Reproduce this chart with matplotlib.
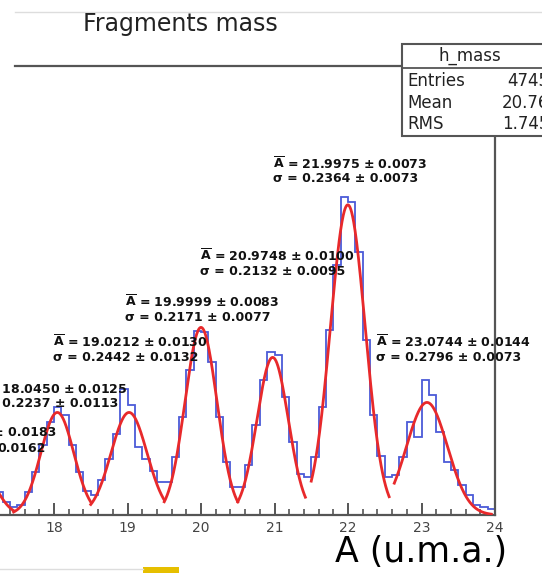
import numpy as np
import matplotlib
matplotlib.use("Agg")
import matplotlib.pyplot as plt
from matplotlib.patches import Rectangle
from matplotlib.lines import Line2D

W, H = 542, 573

# histogram h_mass, 0.1 wide bins starting at 17.2
bin_lo = 17.2
bin_width = 0.1
counts = [18, 10, 6, 8, 18, 34, 56, 74, 86, 80,
          56, 34, 19, 16, 28, 45, 65, 101, 88, 54,
          45, 35, 26, 26, 46, 78, 116, 147, 146, 122,
          78, 42, 22, 22, 40, 72, 108, 130, 128, 94,
          58, 33, 30, 46, 86, 148, 200, 254, 250, 210,
          140, 80, 47, 30, 32, 46, 74, 62, 108, 96,
          66, 42, 36, 24, 16, 8, 6, 5]

# gaussian fits, one per peak
fit_mean = [17.03, 18.0450, 19.0212, 19.9999, 20.9748, 21.9975, 23.0744]
fit_sigma = [0.20, 0.2237, 0.2442, 0.2171, 0.2132, 0.2364, 0.2796]
fit_amp = [32, 82, 82, 150, 126, 248, 90]
fit_lo = [16.6, 17.45, 18.5, 19.5, 20.5, 21.5, 22.63]
fit_hi = [17.45, 18.5, 19.5, 20.5, 21.42, 22.56, 23.95]

# fit result labels (left x, y of first line, in data units)
lab_mean = ["18.0450 ± 0.0125", "19.0212 ± 0.0130", "19.9999 ± 0.0083",
            "20.9748 ± 0.0100", "21.9975 ± 0.0073", "23.0744 ± 0.0144"]
lab_sigma = ["0.2237 ± 0.0113", "0.2442 ± 0.0132", "0.2171 ± 0.0077",
             "0.2132 ± 0.0095", "0.2364 ± 0.0073", "0.2796 ± 0.0073"]
lab_x = [16.90, 17.99, 18.97, 19.99, 20.98, 22.38]
lab_y = [101, 138, 170, 207, 281, 138]

stat_names = ["Entries", "Mean", "RMS"]
stat_vals = ["4745", "20.76", "1.745"]

fig = plt.figure(figsize=(W / 100, H / 100), dpi=100)

def fx(x):
    return x / W

def fy(y):
    return 1 - y / H

ax = fig.add_axes([0, fy(515), fx(495), (515 - 66) / H])
ax.set_xlim(17.2653, 24.0)
ax.set_ylim(0, 359)

edges = bin_lo + bin_width * np.arange(len(counts) + 1)
ax.stairs(counts, edges, color="#4b5bd8", lw=1.3, zorder=2)

for m, s, a, lo, hi in zip(fit_mean, fit_sigma, fit_amp, fit_lo, fit_hi):
    xs = np.linspace(lo, hi, 300)
    ax.plot(xs, a * np.exp(-(xs - m) ** 2 / (2 * s ** 2)), color="#e8292b", lw=2.0, zorder=3)

for t, sg, x, y in zip(lab_mean, lab_sigma, lab_x, lab_y):
    ax.text(x, y, r"$\overline{\mathbf{A}}$ = " + t, fontsize=9, fontweight="bold",
            va="center", ha="left", color="#111111", zorder=4)
    ax.text(x, y - 12, "σ = " + sg, fontsize=9, fontweight="bold",
            va="center", ha="left", color="#111111", zorder=4)

# first peak label is cut by the left border, only its end is visible
fig.text(fx(-7), fy(433), "± 0.0183", fontsize=9, fontweight="bold", va="center", color="#111111")
fig.text(fx(-3), fy(448), "0.0162", fontsize=9, fontweight="bold", va="center", color="#111111")

ax.spines["left"].set_visible(False)
ax.spines["top"].set_visible(False)
for sp in ["bottom", "right"]:
    ax.spines[sp].set_color("#555555")
    ax.spines[sp].set_linewidth(1.6)

ax.set_xticks(np.arange(18, 25, 1))
ax.set_xticks(np.arange(17.4, 24.01, 0.2), minor=True)
ax.set_yticks([])
ax.tick_params(axis="x", which="major", direction="in", length=9, width=1.4,
               color="#555555", labelsize=10, labelcolor="#444444", pad=4)
ax.tick_params(axis="x", which="minor", direction="in", length=4.5, width=1.2, color="#555555")
ax.patch.set_alpha(0)

# frame top line
fig.add_artist(Line2D([fx(15), fx(495)], [fy(66), fy(66)], color="#555555", lw=1.6))
# faint screenshot border at the very top
fig.add_artist(Line2D([fx(15), 1], [fy(12), fy(12)], color="#dddddd", lw=1.0))

fig.text(fx(83), fy(31), "Fragments mass", fontsize=17, va="baseline", ha="left", color="#222222")

# stats box
fig.add_artist(Rectangle((fx(402), fy(136)), fx(150), (136 - 44) / H,
                         facecolor="white", edgecolor="#555555", lw=1.5, zorder=5))
fig.add_artist(Line2D([fx(402), 1], [fy(68), fy(68)], color="#555555", lw=1.3, zorder=6))
fig.text(fx(470), fy(56), "h_mass", fontsize=12, ha="center", va="center", color="#222222", zorder=7)
for i, (n, v) in enumerate(zip(stat_names, stat_vals)):
    yy = fy(81 + i * 21.5)
    fig.text(fx(407), yy, n, fontsize=12, ha="left", va="center", color="#222222", zorder=7)
    fig.text(fx(549), yy, v, fontsize=12, ha="right", va="center", color="#222222", zorder=7)

fig.text(fx(421), fy(552), "A (u.m.a.)", fontsize=25, ha="center", va="center", color="black")

# bits of the screenshot at the bottom
fig.add_artist(Rectangle((fx(143), 0), fx(36), 6 / H, facecolor="#e6bf00", edgecolor="none"))
fig.add_artist(Line2D([0, fx(143)], [fy(569), fy(569)], color="#dddddd", lw=1.0))

fig.savefig("out.png", dpi=100)
